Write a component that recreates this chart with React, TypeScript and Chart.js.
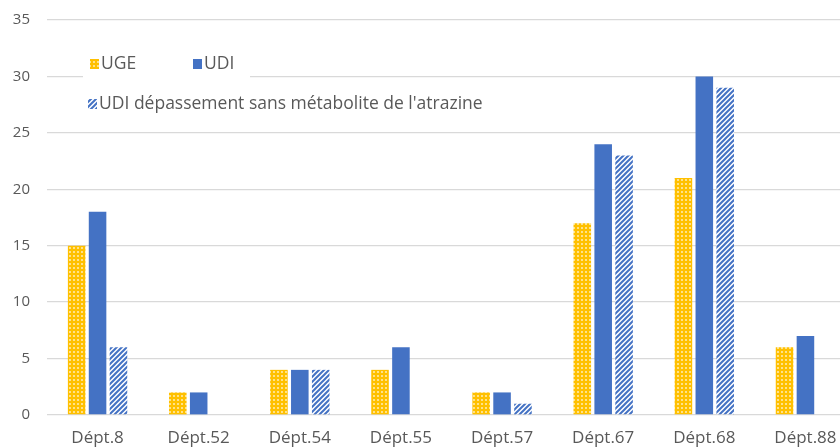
import React, { useEffect, useRef } from "react";
import { Chart, registerables } from "chart.js";

Chart.register(...registerables);

const categories = ["Dépt.8", "Dépt.52", "Dépt.54", "Dépt.55", "Dépt.57", "Dépt.67", "Dépt.68", "Dépt.88"];
const ugeValues = [15, 2, 4, 4, 2, 17, 21, 6];
const udiValues = [18, 2, 4, 6, 2, 24, 30, 7];
const udiSansValues = [6, null, 4, null, 1, 23, 29, null];
const seriesLabels = ["UGE", "UDI", "UDI dépassement sans métabolite de l'atrazine"];

const GOLD = "#FFC000";
const BLUE = "#4472C4";
const FONT = "'Open Sans', 'Liberation Sans', sans-serif";
const TEXT = "#595959";
const SHIFT = 6;

function makeDots(): CanvasPattern | string {
  const c = document.createElement("canvas");
  c.width = 4;
  c.height = 4;
  const g = c.getContext("2d");
  if (!g) return GOLD;
  g.fillStyle = GOLD;
  g.fillRect(0, 0, 4, 4);
  g.fillStyle = "#FFE28A";
  g.fillRect(1, 1, 2, 2);
  return g.createPattern(c, "repeat") || GOLD;
}

function makeHatch(): CanvasPattern | string {
  const c = document.createElement("canvas");
  c.width = 5;
  c.height = 5;
  const g = c.getContext("2d");
  if (!g) return BLUE;
  g.fillStyle = "#ffffff";
  g.fillRect(0, 0, 5, 5);
  g.strokeStyle = BLUE;
  g.lineWidth = 2;
  g.beginPath();
  g.moveTo(-1, 6);
  g.lineTo(6, -1);
  g.moveTo(-1, 1);
  g.lineTo(1, -1);
  g.moveTo(4, 6);
  g.lineTo(6, 4);
  g.stroke();
  return g.createPattern(c, "repeat") || BLUE;
}

export default function App() {
  const ref = useRef<HTMLCanvasElement | null>(null);

  useEffect(() => {
    if (!ref.current) return;
    const dots = makeDots();
    const hatch = makeHatch();

    const legendPlugin = {
      id: "customLegend",
      afterDraw(chart: any) {
        const ctx = chart.ctx;
        ctx.save();
        ctx.translate(0, SHIFT);
        ctx.fillStyle = "#ffffff";
        ctx.fillRect(83, 46, 167, 38);
        ctx.font = `17.5px ${FONT}`;
        ctx.textBaseline = "middle";
        const items = [
          { x: 90, y: 64, fill: dots, label: seriesLabels[0] },
          { x: 193, y: 64, fill: BLUE, label: seriesLabels[1] },
          { x: 88, y: 104, fill: hatch, label: seriesLabels[2] },
        ];
        for (const it of items) {
          ctx.fillStyle = it.fill;
          ctx.fillRect(it.x, it.y - 5, 9, 10);
          ctx.fillStyle = TEXT;
          ctx.fillText(it.label, it.x + 11, it.y);
        }
        ctx.restore();
      },
    };

    const chart = new Chart(ref.current, {
      type: "bar",
      data: {
        labels: categories,
        datasets: [
          { label: seriesLabels[0], data: ugeValues, backgroundColor: dots as any, borderWidth: 0 },
          { label: seriesLabels[1], data: udiValues, backgroundColor: BLUE, borderWidth: 0 },
          { label: seriesLabels[2], data: udiSansValues as any, backgroundColor: hatch as any, borderWidth: 0 },
        ],
      },
      options: {
        animation: false,
        responsive: false,
        maintainAspectRatio: false,
        layout: { padding: { top: 0, right: 4, left: 0, bottom: 0 } },
        datasets: { bar: { categoryPercentage: 0.62, barPercentage: 0.84 } } as any,
        plugins: {
          legend: { display: false },
          tooltip: { enabled: false },
        },
        scales: {
          x: {
            grid: { display: false, drawTicks: false },
            border: { display: false },
            ticks: { color: TEXT, font: { family: FONT, size: 17 }, padding: 13, maxRotation: 0, autoSkip: false },
            afterFit: (s: any) => {
              s.height = 33;
            },
          },
          y: {
            min: 0,
            max: 35,
            grid: { color: "#D9D9D9", lineWidth: 1.3, drawTicks: false },
            border: { display: false },
            ticks: { stepSize: 5, color: TEXT, font: { family: FONT, size: 15 }, padding: 17 },
            afterFit: (s: any) => {
              s.width = 47;
            },
          },
        },
      },
      plugins: [legendPlugin],
    });

    return () => chart.destroy();
  }, []);

  return (
    <div style={{ position: "fixed", left: 0, top: 0, width: 840, height: 448, overflow: "hidden", background: "#fff" }}>
      <canvas ref={ref} width={860} height={448 + SHIFT} style={{ display: "block", marginTop: -SHIFT }} />
    </div>
  );
}
